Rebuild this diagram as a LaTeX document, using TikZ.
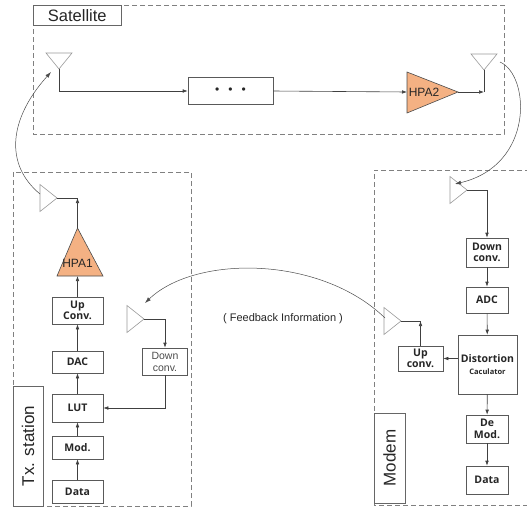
\documentclass[tikz,border=0pt]{standalone}
\usepackage{fontspec}
\setmainfont{Liberation Sans}
\newfontfamily\blkfont{Open Sans}
\usetikzlibrary{arrows.meta}
\definecolor{hpaorange}{HTML}{F4B183}

\begin{document}
\begin{tikzpicture}[x=1pt, y=-1pt, line width=0.6pt,
    grp/.style={draw=gray, dash pattern=on 5pt off 3pt},
    tag/.style={draw=gray!80!black, inner sep=0pt, text=black!85},
    blk/.style={draw=gray!70!black, fill=white, inner sep=0pt, align=center,
        text=black!85, font=\blkfont\bfseries\fontsize{10.5}{11.5}\selectfont},
    thin blk/.style={blk, font=\fontsize{10.5}{12}\selectfont, text=black!70},
    ant/.style={draw=gray!80},
    hpa/.style={draw=gray!60!black, fill=hpaorange},
    wire/.style={draw=black!75},
    sig/.style={wire, -{Latex[length=5pt,width=3.6pt]}},
    link/.style={draw=black!70, line width=0.5pt, -{Latex[length=6pt,width=4pt]}}]
        \def\antdown(#1){(#1) -- ++(-13,-16) -- ++(26,0) -- cycle}
        \def\antright(#1){(#1) -- ++(-17,-13.5) -- ++(0,27) -- cycle}
        \useasboundingbox (0,0) rectangle (527,507);

        % satellite
        \draw[grp] (33,5) rectangle (504,134);
        \node[tag, anchor=north west, minimum width=88pt, minimum height=20pt,
              font=\fontsize{16.5}{18}\selectfont] (sattag) at (33,5) {Satellite};
        \coordinate (satin) at (59,69);
        \coordinate (satout) at (484,70);
        \draw[ant] \antdown(satin);
        \draw[ant] \antdown(satout);
        \node[blk, minimum width=85pt, minimum height=27pt, font=\fontsize{12}{12}\selectfont]
              (relay) at (230.5,91) {\textbullet\hspace{9pt}\textbullet\hspace{9pt}\textbullet};
        \draw[hpa] (407,72) -- (458,92) -- (407,113) -- cycle;
        \coordinate (hpa2in) at (407,92);
        \coordinate (hpa2out) at (458,92);
        \coordinate (satjoin) at (484,92);
        \node[font=\fontsize{12}{12}\selectfont, text=black!85] (hpa2) at (424,92) {HPA2};
        \draw[sig] (satin) |- (relay.west);
        \draw[sig] (relay.east) -- (hpa2in);
        \draw[sig] (hpa2out) -- (satjoin);
        \draw[wire] (satjoin) -- (satout);

        % tx station
        \draw[grp] (13,172) rectangle (191,506);
        \node[tag, rotate=90, minimum width=120pt, minimum height=30pt,
              font=\fontsize{17}{18}\selectfont] (txtag) at (28,446) {Tx. station};
        \coordinate (txant) at (57,198);
        \coordinate (txjoin) at (77.5,198);
        \draw[ant] \antright(txant);
        \draw[hpa] (57,276) -- (77.5,228) -- (103,276) -- cycle;
        \coordinate (hpa1in) at (77.5,276);
        \coordinate (hpa1out) at (77.5,228);
        \node[font=\fontsize{12}{12}\selectfont, text=black!85] (hpa1) at (77.5,263) {HPA1};
        \node[blk, minimum width=51pt, minimum height=27pt] (upconv) at (77.5,310.5) {Up\\Conv.};
        \node[blk, minimum width=51pt, minimum height=22pt] (dac) at (77.5,362) {DAC};
        \node[blk, minimum width=51pt, minimum height=28pt] (lut) at (77.5,408) {LUT};
        \node[blk, minimum width=51pt, minimum height=23pt] (mod) at (77.5,447.5) {Mod.};
        \node[blk, minimum width=51pt, minimum height=23pt] (data) at (77.5,491.5) {Data};
        \draw[sig] (data) -- (mod);
        \draw[sig] (mod) -- (lut);
        \draw[sig] (lut) -- (dac);
        \draw[sig] (dac) -- (upconv);
        \draw[sig] (upconv) -- (hpa1in);
        \draw[sig] (hpa1out) -- (txjoin);
        \draw[wire] (txjoin) -- (txant);
        \coordinate (fbant) at (144,319);
        \draw[ant] \antright(fbant);
        \node[thin blk, minimum width=45pt, minimum height=27pt] (fbdown) at (165,361.5) {Down\\conv.};
        \draw[sig] (fbant) -| (fbdown.north);
        \draw[sig] (fbdown.south) |- (lut.east);

        % modem
        \draw[grp] (530,170) -- (374,170) -- (374,505) -- (530,505);
        \node[tag, rotate=90, minimum width=90pt, minimum height=31pt,
              font=\fontsize{17}{18}\selectfont] (mdmtag) at (389.5,458) {Modem};
        \coordinate (mdmant) at (467,190);
        \draw[ant] \antright(mdmant);
        \node[blk, minimum width=42pt, minimum height=29pt] (mdown) at (487,252.5) {Down\\conv.};
        \node[blk, minimum width=42pt, minimum height=26pt] (adc) at (487,300) {ADC};
        \node[blk, minimum width=59pt, minimum height=59pt] (dist) at (487.5,364.5)
              {\fontsize{10.5}{12}\selectfont Distortion\\\fontsize{7.5}{9}\selectfont Caculator};
        \node[blk, minimum width=42pt, minimum height=28pt] (demod) at (487,429) {De\\Mod.};
        \node[blk, minimum width=42pt, minimum height=28pt] (mdata) at (487,480) {Data};
        \node[blk, minimum width=45pt, minimum height=25pt] (mup) at (420.5,358.5) {Up\\conv.};
        \coordinate (mfbant) at (401,321);
        \coordinate (mupjoin) at (mup.north |- mfbant);
        \draw[ant] \antright(mfbant);
        \draw[sig] (mdmant) -| (mdown.north);
        \draw[sig] (mdown) -- (adc);
        \draw[sig] (adc) -- (dist);
        \draw[sig] (dist) -- (demod);
        \draw[sig] (demod) -- (mdata);
        \draw[sig] (dist.west |- mup.east) -- (mup.east);
        \draw[sig] (mup.north) -- (mupjoin);
        \draw[wire] (mupjoin) -- (mfbant);

        % radio links
        \coordinate (txtail) at (40,194);
        \coordinate (sathead) at (51,72);
        \coordinate (sattail) at (500,62);
        \coordinate (mdmhead) at (455,184);
        \coordinate (fbtail) at (385,318);
        \coordinate (fbhead) at (145,303);
        \draw[link] (txtail) .. controls (5,165) and (8,120) .. (sathead);
        \draw[link] (sattail) .. controls (530,75) and (535,165) .. (mdmhead);
        \draw[link] (fbtail) .. controls (320,255) and (195,255) .. (fbhead);
        \node[font=\fontsize{11}{13}\selectfont, text=black!85] (fblabel) at (283,319)
              {( Feedback Information )};
    \end{tikzpicture}
\end{document}
